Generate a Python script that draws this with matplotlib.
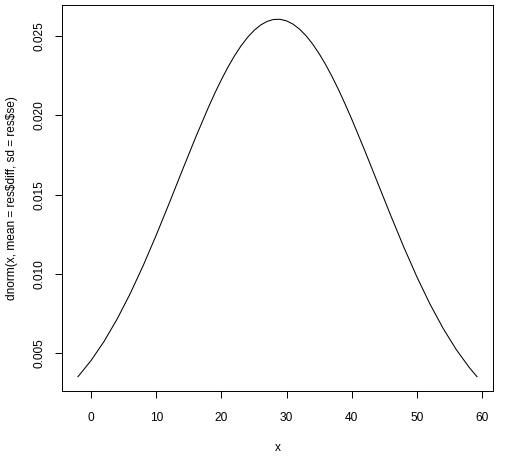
import numpy as np
import matplotlib.pyplot as plt

plt.rcParams['font.family'] = ['Liberation Sans', 'DejaVu Sans']

# curve values (x, density)
xs = [-2, 0, 2, 4, 6, 8, 10, 12, 14, 16, 18, 19, 20, 21, 22, 23, 24,
      25, 26, 27, 28, 29, 30, 31, 32, 33, 34, 35, 36, 37, 38, 39, 40,
      42, 44, 46, 48, 50, 52, 54, 56, 58, 59.2]
dens = [0.003528, 0.004544, 0.005751, 0.007159, 0.008757, 0.010532,
        0.012451, 0.014472, 0.016536, 0.018572, 0.020507, 0.021412,
        0.022261, 0.023044, 0.023755, 0.024381, 0.024918, 0.025358,
        0.025696, 0.025928, 0.026050, 0.026061, 0.025961, 0.025751,
        0.025434, 0.025014, 0.024496, 0.023886, 0.023192, 0.022423,
        0.021586, 0.020692, 0.019751, 0.017767, 0.015710, 0.013656,
        0.011669, 0.009802, 0.008095, 0.006572, 0.005245, 0.004114,
        0.003528]

xticks = [0, 10, 20, 30, 40, 50, 60]
yticks = [0.005, 0.010, 0.015, 0.020, 0.025]

fig = plt.figure(figsize=(5.07, 4.59), dpi=100)
ax = fig.add_axes([62/507, 1-391/459, (493-62)/507, (391-5)/459])
ax.plot(xs, dens, color='black', linewidth=0.75)

# R style 4% padding
xr = max(xs) - min(xs)
yr = max(dens) - min(dens)
ax.set_xlim(min(xs) - 0.04*xr, max(xs) + 0.04*xr)
ax.set_ylim(min(dens) - 0.04*yr, max(dens) + 0.04*yr)

ax.set_xticks(xticks)
ax.set_xticklabels([str(t) for t in xticks])
ax.set_yticks(yticks)
ax.set_yticklabels(['%.3f' % t for t in yticks], rotation=90, va='center')
ax.tick_params(direction='out', length=5.2, width=0.7, labelsize=8.6)
ax.tick_params(axis='x', pad=10)
ax.tick_params(axis='y', pad=7)
for s in ax.spines.values():
    s.set_linewidth(0.7)

ax.set_xlabel('x', fontsize=8.6, labelpad=13)
ax.set_ylabel(r'dnorm(x, mean = res\$diff, sd = res\$se)', fontsize=8.6, labelpad=11)

fig.savefig('out.png', dpi=100)
